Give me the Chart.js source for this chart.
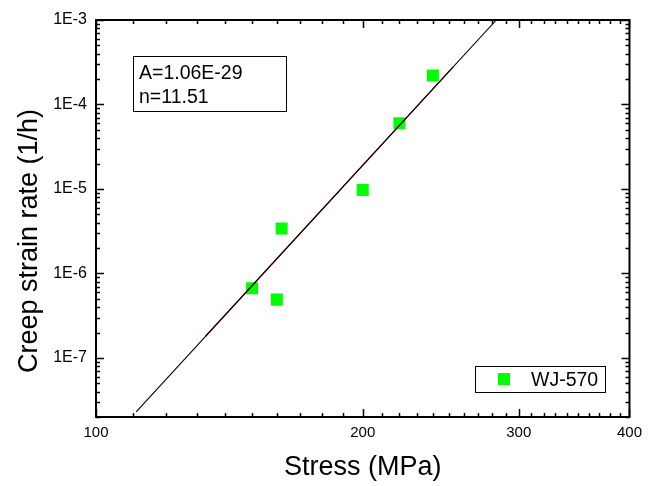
<!DOCTYPE html>
<html>
<head>
<meta charset="utf-8">
<script src="https://cdn.jsdelivr.net/npm/chart.js@4"></script>
<style>
html, body { margin: 0; padding: 0; background: #fff; }
</style>
</head>
<body>
<canvas id="myChart" width="649" height="486"></canvas>
<script>
const stress = [150, 160, 162, 200, 220, 240];
const strainRate = [6.7e-7, 4.9e-7, 3.4e-6, 9.7e-6, 6.0e-5, 2.2e-4];
const fitStress = [111, 283];
const fitRate = [2.3e-8, 1.0e-3];
const fitRedStress = [133, 253];
const fitRedRate = [1.82e-7, 2.79e-4];
const xTickValues = [100, 200, 300, 400];
const xTickLabels = ['100', '200', '300', '400'];
const yTickValues = [1e-7, 1e-6, 1e-5, 1e-4, 1e-3];
const yTickLabels = ['1E-7', '1E-6', '1E-5', '1E-4', '1E-3'];
const fitText = ['A=1.06E-29', 'n=11.51'];
const seriesName = 'WJ-570';

const FONT = 'Arial, "Liberation Sans", sans-serif';
Chart.defaults.font.family = FONT;
Chart.defaults.color = '#000';

function toPoints(xs, ys) {
    return xs.map((x, i) => ({ x: x, y: ys[i] }));
}

// minor tick positions (every 10 MPa, and 2..9 per decade)
const xMinor = [];
for (let v = 110; v < 400; v += 10) {
    if (!xTickValues.includes(v)) xMinor.push(v);
}
const yMinor = [];
for (let e = -8; e <= -4; e++) {
    for (let m = 2; m <= 9; m++) {
        const v = m * Math.pow(10, e);
        if (v >= 2e-8 && v < 1e-3) yMinor.push(v);
    }
}

const framePlugin = {
    id: 'frame',
    afterDraw(chart) {
        const ctx = chart.ctx;
        const a = chart.chartArea;
        const xs = chart.scales.x;
        const ys = chart.scales.y;
        ctx.save();
        ctx.strokeStyle = '#000';

        // inward ticks on all four sides
        ctx.lineWidth = 1.5;
        ctx.beginPath();
        const xt = (vals, len) => vals.forEach(v => {
            const px = Math.round(xs.getPixelForValue(v)) + 0.5;
            ctx.moveTo(px, a.bottom); ctx.lineTo(px, a.bottom - len);
            ctx.moveTo(px, a.top); ctx.lineTo(px, a.top + len);
        });
        const yt = (vals, len) => vals.forEach(v => {
            const py = Math.round(ys.getPixelForValue(v)) + 0.5;
            ctx.moveTo(a.left, py); ctx.lineTo(a.left + len, py);
            ctx.moveTo(a.right, py); ctx.lineTo(a.right - len, py);
        });
        xt(xTickValues, 8); xt(xMinor, 4);
        yt(yTickValues, 8); yt(yMinor, 4);
        ctx.stroke();

        // axis box
        ctx.lineWidth = 2;
        ctx.strokeRect(a.left, a.top, a.right - a.left, a.bottom - a.top);

        // fit parameters box
        ctx.lineWidth = 1;
        ctx.strokeRect(133.5, 56.5, 153, 55);
        ctx.fillStyle = '#000';
        ctx.font = '19.5px ' + FONT;
        ctx.textAlign = 'left';
        ctx.textBaseline = 'alphabetic';
        ctx.fillText(fitText[0], 139, 79);
        ctx.fillText(fitText[1], 139, 103);

        // legend
        const ds = chart.data.datasets[2];
        ctx.strokeRect(475.5, 366.5, 130, 26);
        ctx.fillStyle = ds.backgroundColor;
        ctx.fillRect(498, 373, 12, 12);
        ctx.fillStyle = '#000';
        ctx.fillText(ds.label, 531, 386);

        // axis titles
        ctx.font = '27px ' + FONT;
        ctx.textAlign = 'center';
        ctx.fillText('Stress (MPa)', (a.left + a.right) / 2, 475);
        ctx.translate(37, 241);
        ctx.rotate(-Math.PI / 2);
        ctx.fillText('Creep strain rate (1/h)', 0, 0);
        ctx.restore();
    }
};

new Chart(document.getElementById('myChart'), {
    type: 'scatter',
    data: {
        datasets: [{
            label: 'fit',
            data: toPoints(fitStress, fitRate),
            showLine: true,
            borderColor: '#000',
            borderWidth: 1.1,
            pointRadius: 0,
            order: 0
        }, {
            label: 'fit range',
            data: toPoints(fitRedStress, fitRedRate),
            showLine: true,
            borderColor: '#a00000',
            borderWidth: 1.3,
            pointRadius: 0,
            order: 1
        }, {
            label: seriesName,
            data: toPoints(stress, strainRate),
            pointStyle: 'rect',
            pointRadius: 8.5,
            backgroundColor: '#00ff00',
            borderColor: '#00ff00',
            borderWidth: 0,
            order: 2
        }]
    },
    options: {
        responsive: false,
        animation: false,
        layout: { padding: { top: 20, right: 18, left: 0, bottom: 0 } },
        plugins: {
            legend: { display: false },
            tooltip: { enabled: false }
        },
        scales: {
            x: {
                type: 'logarithmic',
                min: 100,
                max: 400,
                grid: { display: false, drawTicks: false },
                border: { display: false },
                afterBuildTicks: (scale) => {
                    scale.ticks = xTickValues.map(v => ({ value: v }));
                },
                afterFit: (scale) => { scale.height = 69; },
                ticks: {
                    autoSkip: false,
                    maxRotation: 0,
                    padding: 7,
                    font: { size: 15 },
                    callback: (value) => xTickLabels[xTickValues.indexOf(value)]
                }
            },
            y: {
                type: 'logarithmic',
                min: 2e-8,
                max: 1e-3,
                grid: { display: false, drawTicks: false },
                border: { display: false },
                afterBuildTicks: (scale) => {
                    scale.ticks = yTickValues.map(v => ({ value: v }));
                },
                afterFit: (scale) => { scale.width = 96; },
                ticks: {
                    autoSkip: false,
                    padding: 9,
                    font: { size: 16 },
                    callback: (value) => {
                        const i = yTickValues.findIndex(v => Math.abs(v - value) / v < 1e-6);
                        return i >= 0 ? yTickLabels[i] : '';
                    }
                }
            }
        }
    },
    plugins: [framePlugin]
});
</script>
</body>
</html>
